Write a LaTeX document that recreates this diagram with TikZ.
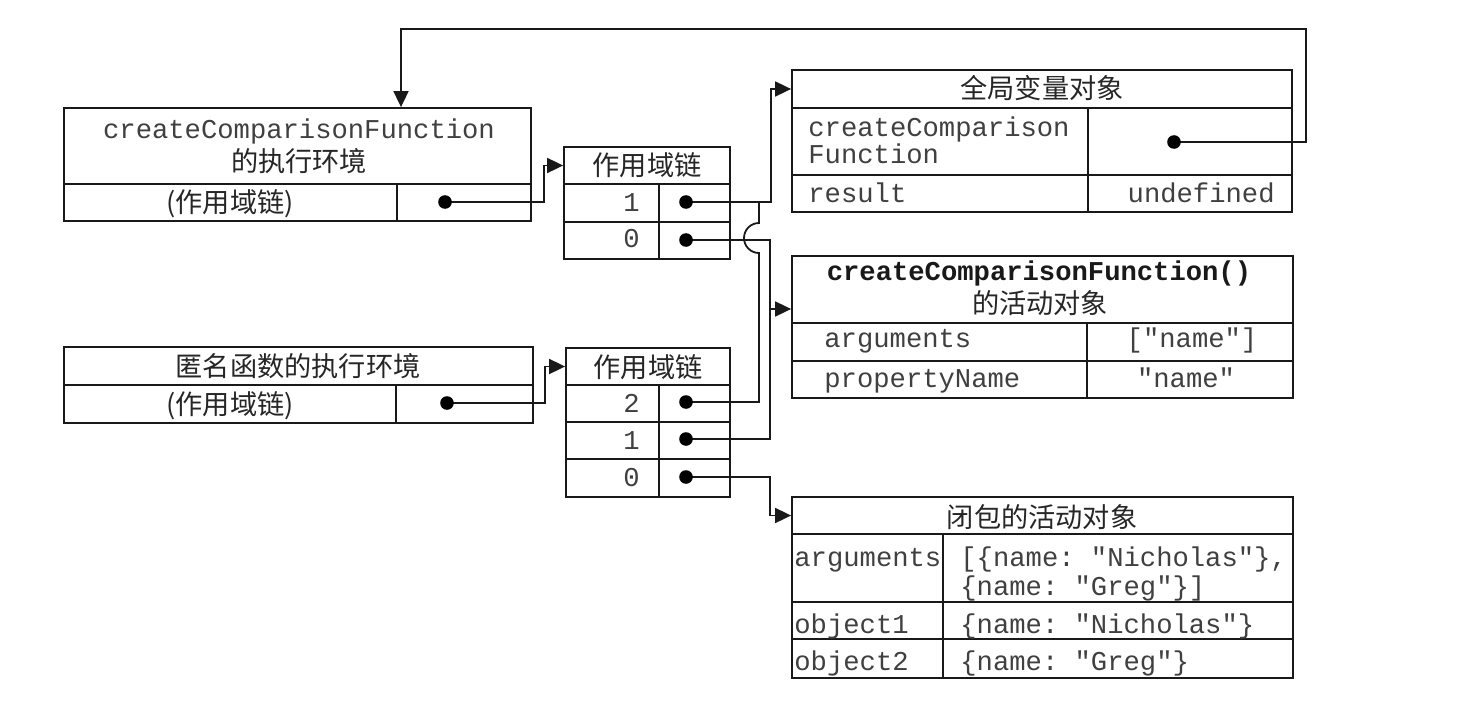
\documentclass[tikz,border=0pt]{standalone}
\usepackage{fontspec}
\setmonofont{Liberation Mono}
\newfontfamily\cjk{Noto Sans CJK SC}
\usetikzlibrary{arrows.meta,fit}
\newcommand\msz{\fontsize{13.6pt}{14pt}\selectfont}
\newcommand\cell[3]{\node[cellst, fit={#2 #3}] (#1) {};}
\begin{document}
\begin{tikzpicture}[x=0.5pt,y=-0.5pt,
  cellst/.style={draw=black!90, line width=0.9pt, inner sep=0pt},
  mono/.style={font=\msz\ttfamily, text=black!75, inner sep=0pt},
  monob/.style={font=\msz\ttfamily\bfseries, text=black!90, inner sep=0pt},
  cj/.style={font=\msz\cjk, text=black!85, inner sep=0pt},
  conn/.style={line width=0.9pt, draw=black!90},
  arr/.style={conn, -{Triangle[length=8pt,width=7.5pt]}},
  dot/.style={circle, fill=black, inner sep=0pt, minimum size=6.8pt}]
\fill[white] (0,0) rectangle (1472,706);
\useasboundingbox (0,0) rectangle (1472,706);

% ---- execution context of createComparisonFunction
\cell{Ah}{(64,108)}{(531,184)}
\cell{Al}{(64,184)}{(397,221)}
\cell{Ar}{(397,184)}{(531,221)}
\node[mono, anchor=base] (tA1) at (299,139) {createComparisonFunction};
\node[cj, anchor=base] (tA2) at (299,171) {的执行环境};
\node[cj, anchor=base] (tA3) at (230,213) {(作用域链)};

% ---- scope chain 1
\cell{Bh}{(564,147)}{(730,184)}
\cell{B1l}{(564,184)}{(659,222)}
\cell{B1r}{(659,184)}{(730,222)}
\cell{B0l}{(564,222)}{(659,259)}
\cell{B0r}{(659,222)}{(730,259)}
\node[cj, anchor=base] (tB) at (647,176) {作用域链};
\node[mono, anchor=base east] (tB1) at (640,211) {1};
\node[mono, anchor=base east] (tB0) at (640,247) {0};

% ---- execution context of anonymous function
\cell{Eh}{(64,347)}{(533,385)}
\cell{El}{(64,385)}{(396,423)}
\cell{Er}{(396,385)}{(533,423)}
\node[cj, anchor=base] (tE1) at (298,376) {匿名函数的执行环境};
\node[cj, anchor=base] (tE2) at (230,414) {(作用域链)};

% ---- scope chain 2
\cell{Ch}{(566,348)}{(730,385)}
\cell{C2l}{(566,385)}{(659,422)}
\cell{C2r}{(659,385)}{(730,422)}
\cell{C1l}{(566,422)}{(659,459)}
\cell{C1r}{(659,422)}{(730,459)}
\cell{C0l}{(566,459)}{(659,497)}
\cell{C0r}{(659,459)}{(730,497)}
\node[cj, anchor=base] (tC) at (648,377) {作用域链};
\node[mono, anchor=base east] (tC2) at (640,412) {2};
\node[mono, anchor=base east] (tC1) at (640,449) {1};
\node[mono, anchor=base east] (tC0) at (640,486) {0};

% ---- global variable object
\cell{Gh}{(792,70)}{(1292,108)}
\cell{G1l}{(792,108)}{(1088,175)}
\cell{G1r}{(1088,108)}{(1292,175)}
\cell{G2l}{(792,175)}{(1088,212)}
\cell{G2r}{(1088,175)}{(1292,212)}
\node[cj, anchor=base] (tG) at (1042,99) {全局变量对象};
\node[mono, anchor=base west] (tG1) at (808,136) {createComparison};
\node[mono, anchor=base west] (tG2) at (808,163) {Function};
\node[mono, anchor=base west] (tG3) at (808,202) {result};
\node[mono, anchor=base east] (tG4) at (1275,202) {undefined};

% ---- activation object of createComparisonFunction()
\cell{Dh}{(792,256)}{(1293,323)}
\cell{D1l}{(792,323)}{(1087,361)}
\cell{D1r}{(1087,323)}{(1293,361)}
\cell{D2l}{(792,361)}{(1087,398)}
\cell{D2r}{(1087,361)}{(1293,398)}
\node[monob, anchor=base] (tD1) at (1039,280) {createComparisonFunction()};
\node[cj, anchor=base] (tD2) at (1040,313) {的活动对象};
\node[mono, anchor=base west] (tD3) at (824,347) {arguments};
\node[mono, anchor=base] (tD4) at (1192,347) {["name"]};
\node[mono, anchor=base west] (tD5) at (824,387) {propertyName};
\node[mono, anchor=base] (tD6) at (1186,387) {"name"};

% ---- activation object of the closure
\cell{Fh}{(792,497)}{(1293,534)}
\cell{F1l}{(792,534)}{(943,602)}
\cell{F1r}{(943,534)}{(1293,602)}
\cell{F2l}{(792,602)}{(943,639)}
\cell{F2r}{(943,602)}{(1293,639)}
\cell{F3l}{(792,639)}{(943,678)}
\cell{F3r}{(943,639)}{(1293,678)}
\node[cj, anchor=base] (tF) at (1042,527) {闭包的活动对象};
\node[mono, anchor=base west] (tF1) at (794,566) {arguments};
\node[mono, anchor=base west] (tF2) at (960,566) {[\{name: "Nicholas"\},};
\node[mono, anchor=base west] (tF3) at (960,595) {\{name: "Greg"\}]};
\node[mono, anchor=base west] (tF4) at (794,633) {object1};
\node[mono, anchor=base west] (tF5) at (960,633) {\{name: "Nicholas"\}};
\node[mono, anchor=base west] (tF6) at (794,670) {object2};
\node[mono, anchor=base west] (tF7) at (960,670) {\{name: "Greg"\}};

% ---- pointer dots
\coordinate (pA) at (445,202);
\coordinate (pE) at (447,403);
\coordinate (pB1) at (686,202);
\coordinate (pB0) at (686,240);
\coordinate (pC2) at (686,402);
\coordinate (pC1) at (686,439);
\coordinate (pC0) at (686,477);
\coordinate (pG) at (1174,142);
\coordinate (jD) at (770,309);
\coordinate (tTop) at (401,29);

% ---- connectors
\draw[arr] (pA) -- (544,202) |- (Bh.west);
\draw[arr] (pE) -- (545,403) |- (Ch.west);
\draw[arr] (pB1) -- (771,202) |- (Gh.west);
\draw[conn] (pB0) -- (770,240) -- (770,439) -- (pC1);
\draw[arr] (jD) -- (jD -| Dh.west);
\draw[conn] (pC2) -- (759,402) -- (759,253)
  arc[start angle=270, end angle=90, radius=7.5pt] -- (759,202);
\draw[arr] (pC0) -- (770,477) |- (Fh.west);
\draw[arr] (pG) -- (1306,142) |- (tTop) -- (tTop |- Ah.north);

% dots on top
\foreach \p in {pA,pE,pB1,pB0,pC2,pC1,pC0,pG}
  \node[dot] at (\p) {};
\end{tikzpicture}
\end{document}
